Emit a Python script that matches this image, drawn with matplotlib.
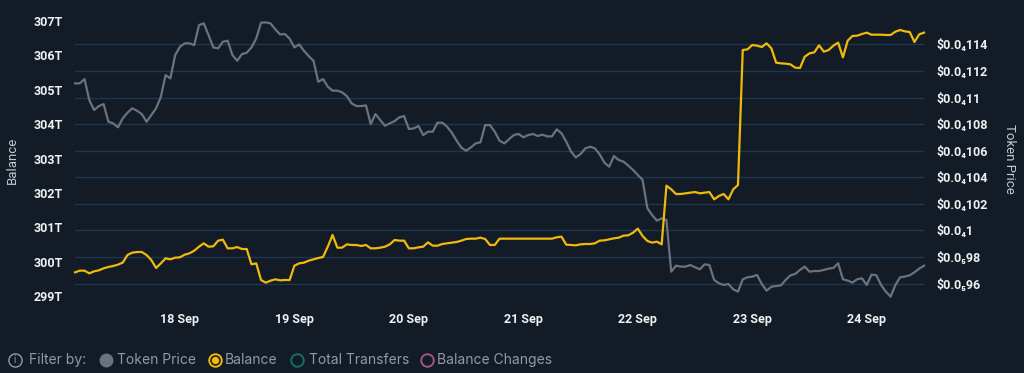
import matplotlib
matplotlib.use("Agg")
import matplotlib.pyplot as plt
import matplotlib.dates as mdates
from matplotlib.lines import Line2D
from matplotlib.ticker import FixedLocator, FuncFormatter
import pandas as pd

# ---------------- data ----------------
start_time = "2024-09-17 02:00"
end_time = "2024-09-24 12:00"

# Token price in units of 1e-6 USD (hourly)
token_price = [
    11.107, 11.107, 11.139, 10.981, 10.906, 10.936, 10.951, 10.818, 10.806, 10.776,
    10.843, 10.886, 10.919, 10.901, 10.876, 10.818, 10.869, 10.919, 11.006, 11.169,
    11.144, 11.320, 11.382, 11.408, 11.408, 11.395, 11.545, 11.558, 11.470, 11.377,
    11.370, 11.420, 11.428, 11.320, 11.277, 11.327, 11.337, 11.377, 11.445, 11.563,
    11.566, 11.558, 11.513, 11.475, 11.478, 11.443, 11.377, 11.400, 11.352, 11.312,
    11.277, 11.119, 11.139, 11.082, 11.052, 11.052, 11.039, 11.011, 10.956, 10.936,
    10.936, 10.941, 10.801, 10.876, 10.831, 10.788, 10.806, 10.823, 10.851, 10.861,
    10.763, 10.768, 10.786, 10.718, 10.743, 10.743, 10.811, 10.811, 10.781, 10.736,
    10.676, 10.623, 10.600, 10.625, 10.655, 10.663,
    10.793, 10.793, 10.743, 10.676, 10.655, 10.686, 10.718, 10.726, 10.701, 10.718,
    10.726, 10.711, 10.721, 10.708, 10.708, 10.761, 10.731, 10.668, 10.593, 10.550,
    10.575, 10.618, 10.630, 10.618, 10.573, 10.510, 10.480, 10.560, 10.530, 10.518,
    10.488, 10.455, 10.417, 10.380, 10.167, 10.116, 10.074, 10.091, 10.079, 9.690,
    9.735, 9.728, 9.728, 9.740, 9.723, 9.708, 9.745, 9.740, 9.628, 9.603,
    9.590, 9.597, 9.557, 9.540, 9.633, 9.648, 9.653, 9.665, 9.597, 9.547,
    9.577, 9.582, 9.587, 9.628, 9.663, 9.673, 9.703, 9.728, 9.690, 9.695,
    9.695, 9.703, 9.713, 9.718, 9.753, 9.633, 9.623, 9.608, 9.633, 9.640,
    9.590, 9.668, 9.663, 9.590, 9.540, 9.502, 9.590, 9.648, 9.653, 9.663,
    9.685, 9.713, 9.735,
]

# Balance in trillions (hourly)
balance = [
    299.688, 299.737, 299.737, 299.659, 299.718, 299.747, 299.805, 299.844, 299.873, 299.912,
    299.970, 300.193, 300.261, 300.280, 300.280, 300.193, 300.047, 299.815, 299.950, 300.096,
    300.067, 300.115, 300.125, 300.202, 300.241, 300.319, 300.435, 300.532, 300.435, 300.445,
    300.610, 300.639, 300.387, 300.387, 300.425, 300.367, 300.367, 299.921, 299.950, 299.465,
    299.388, 299.446, 299.485, 299.456, 299.465, 299.465, 299.882, 299.950, 299.970, 300.028,
    300.067, 300.105, 300.135, 300.435, 300.775, 300.406, 300.406, 300.503, 300.484, 300.484,
    300.455, 300.484, 300.387, 300.387, 300.406, 300.435, 300.503, 300.629, 300.610, 300.610,
    300.387, 300.387, 300.416, 300.435, 300.561, 300.464, 300.464, 300.513, 300.532, 300.552,
    300.571, 300.610, 300.658, 300.668, 300.668, 300.697,
    300.658, 300.484, 300.484, 300.668, 300.668, 300.668, 300.668, 300.668, 300.668, 300.668,
    300.668, 300.668, 300.668, 300.668, 300.668, 300.707, 300.726, 300.493, 300.484, 300.474,
    300.503, 300.513, 300.513, 300.532, 300.610, 300.619, 300.648, 300.678, 300.697, 300.755,
    300.765, 300.842, 300.959, 300.745, 300.600, 300.552, 300.581, 300.503, 302.210, 302.103,
    301.967, 301.967, 301.987, 302.006, 302.025, 301.987, 302.006, 302.025, 301.812, 301.909,
    301.967, 301.812, 302.103, 302.229, 306.156, 306.176, 306.302, 306.282, 306.244, 306.350,
    306.205, 305.788, 305.768, 305.759, 305.739, 305.642, 305.633, 305.962, 306.059, 306.088,
    306.292, 306.108, 306.156, 306.282, 306.370, 305.943, 306.428, 306.564, 306.573, 306.622,
    306.661, 306.602, 306.602, 306.602, 306.593, 306.593, 306.690, 306.738, 306.699, 306.680,
    306.389, 306.612, 306.661,
]

balance_ticks = [299, 300, 301, 302, 303, 304, 305, 306, 307]
price_ticks = [9.6, 9.8, 10.0, 10.2, 10.4, 10.6, 10.8, 11.0, 11.2, 11.4]
day_ticks = ["2024-09-18", "2024-09-19", "2024-09-20", "2024-09-21",
             "2024-09-22", "2024-09-23", "2024-09-24"]
legend_items = ["Token Price", "Balance", "Total Transfers", "Balance Changes"]

# ---------------- style ----------------
BG = "#131b26"
GRID = "#1d3650"
GREY = "#68737f"
YELLOW = "#f0b90b"
TICK = "#eef0f2"
LABEL = "#c3c9cf"
LEGEND_TXT = "#8f9aa6"
FONT = ["Roboto", "DejaVu Sans"]
LFONT = ["Inter", "DejaVu Sans"]

times = pd.date_range(start_time, end_time, periods=len(token_price))

fig = plt.figure(figsize=(10.24, 3.73), dpi=100, facecolor=BG)
W, H = 1024, 373
left, right, top, bottom = 75, 924, 21, 296
ax = fig.add_axes([left / W, 1 - bottom / H, (right - left) / W, (bottom - top) / H])
ax2 = ax.twinx()
ax.set_facecolor(BG)

# grey price line on right axis
ax2.plot(times, token_price, color=GREY, lw=1.6, clip_on=False, solid_joinstyle="round")
# yellow balance line on left axis (drawn on top)
ax.plot(times, balance, color=YELLOW, lw=1.6, clip_on=False, solid_joinstyle="round")
ax.set_zorder(ax2.get_zorder() + 1)
ax.patch.set_visible(False)
fig.patch.set_facecolor(BG)

ax.set_xlim(times[0], times[-1])
ax.set_ylim(299, 307)
ax2.set_ylim(9.507, 11.576)

ax.yaxis.set_major_locator(FixedLocator(balance_ticks))
ax.yaxis.set_major_formatter(FuncFormatter(lambda v, p: f"{int(round(v))}T"))
ax2.yaxis.set_major_locator(FixedLocator(price_ticks))

SUB = str.maketrans("0123456789", "₀₁₂₃₄₅₆₇₈₉")


def price_fmt(v, pos):
    s = f"{v * 1e-6:.10f}".rstrip("0")
    frac = s.split(".")[1]
    nz = len(frac) - len(frac.lstrip("0"))
    rest = frac.lstrip("0")
    return "$0.0" + str(nz).translate(SUB) + rest


ax2.yaxis.set_major_formatter(FuncFormatter(price_fmt))
ax.xaxis.set_major_locator(FixedLocator(mdates.date2num(pd.to_datetime(day_ticks))))
ax.xaxis.set_major_formatter(mdates.DateFormatter("%-d %b"))

ax2.grid(True, axis="y", color=GRID, lw=1.0)
ax.grid(False)
for a in (ax, ax2):
    for s in a.spines.values():
        s.set_visible(False)
    a.tick_params(length=0)

ax.tick_params(axis="y", pad=9, labelcolor=TICK)
ax.tick_params(axis="x", pad=12, labelcolor=TICK)
ax2.tick_params(axis="y", pad=9, labelcolor=TICK)
for lab in ax.get_yticklabels() + ax.get_xticklabels():
    lab.set_family(FONT)
    lab.set_fontweight("bold")
    lab.set_fontsize(9)
for lab in ax2.get_yticklabels():
    lab.set_family(FONT)
    lab.set_fontweight("bold")
    lab.set_fontsize(9)

fig.text(12 / W, 1 - 160 / H, "Balance", rotation=90, ha="center", va="center",
         color=LABEL, fontsize=9.5, family=FONT)
fig.text(1009 / W, 1 - 159 / H, "Token Price", rotation=270, ha="center", va="center",
         color=LABEL, fontsize=9.5, family=FONT)

# ---------------- legend row ----------------
ly = 1 - 360 / H


def fx(px):
    return px / W


# info icon
fig.add_artist(Line2D([fx(15)], [ly], marker="o", ms=9.5, mfc="none", mec=LEGEND_TXT,
                      mew=1.0, transform=fig.transFigure))
fig.text(fx(15), ly, "i", ha="center", va="center", color=LEGEND_TXT, fontsize=7,
         family=LFONT)
fig.text(fx(29), ly, "Filter by:", ha="left", va="center", color=LEGEND_TXT,
         fontsize=10, family=LFONT)

markers = [
    (106, dict(mfc=GREY, mec=GREY, mew=1.0)),
    (215, dict(mfc="none", mec=YELLOW, mew=1.4)),
    (297, dict(mfc="none", mec="#137068", mew=1.4)),
    (427, dict(mfc="none", mec="#a0567e", mew=1.4)),
]
text_x = [117, 225, 309, 437]
for (mx, kw), tx, name in zip(markers, text_x, legend_items):
    fig.add_artist(Line2D([fx(mx)], [ly], marker="o", ms=9, transform=fig.transFigure, **kw))
    fig.text(fx(tx), ly, name, ha="left", va="center", color=LEGEND_TXT,
             fontsize=10, family=LFONT)
# inner dot of selected Balance radio
fig.add_artist(Line2D([fx(215)], [ly], marker="o", ms=4.3, mfc=YELLOW, mec=YELLOW,
                      transform=fig.transFigure))

fig.savefig("out.png", dpi=100, facecolor=BG)
